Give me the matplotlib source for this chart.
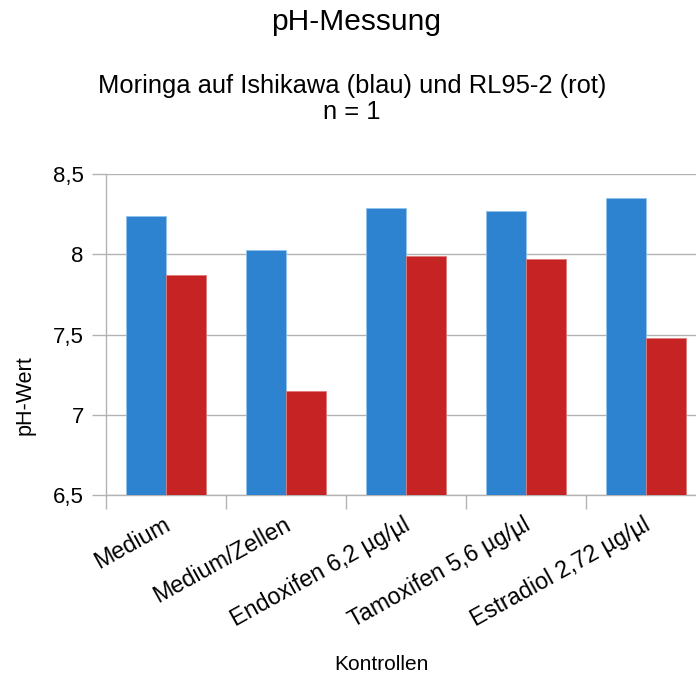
import matplotlib
matplotlib.use("Agg")
import matplotlib.pyplot as plt
import matplotlib.transforms as mtransforms
import numpy as np

# Daten
kategorien = ["Medium", "Medium/Zellen", "Endoxifen 6,2 µg/µl",
              "Tamoxifen 5,6 µg/µl", "Estradiol 2,72 µg/µl"]
ishikawa = [8.24, 8.03, 8.29, 8.27, 8.35]   # blau
rl95 = [7.87, 7.15, 7.99, 7.97, 7.48]       # rot
y_ticks = [6.5, 7, 7.5, 8, 8.5]
y_labels = ["6,5", "7", "7,5", "8", "8,5"]

plt.rcParams['font.family'] = ['Liberation Sans', 'DejaVu Sans']

blau = "#2e83d1"
rot = "#c62424"
grau = "#b3b3b3"

fig = plt.figure(figsize=(6.96, 6.77), dpi=100)
ax = fig.add_axes([106 / 696, 182 / 677, 600 / 696, 320.7 / 677])

x = np.arange(len(kategorien)) + 0.5
w = 1 / 3
ax.bar(x - w / 2, [v - 6.5 for v in ishikawa], w, bottom=6.5, color=blau,
       edgecolor="#8fc3ee", linewidth=0.6, zorder=3)
ax.bar(x + w / 2, [v - 6.5 for v in rl95], w, bottom=6.5, color=rot,
       edgecolor="#e07a7a", linewidth=0.6, zorder=3)

ax.set_xlim(0, len(kategorien))
ax.set_ylim(6.5, 8.5)

# Gitterlinien
ax.set_yticks(y_ticks)
ax.set_yticklabels(y_labels, fontsize=16)
ax.yaxis.grid(True, color=grau, linewidth=1, zorder=0)
ax.tick_params(axis="y", length=10, width=1, color=grau, pad=6)

# Striche zwischen den Kategorien, Beschriftung in der Mitte
ax.set_xticks(np.arange(len(kategorien) + 1))
ax.set_xticklabels([])
ax.tick_params(axis="x", which="major", length=10, width=1, color=grau)
ax.set_xticks(x, minor=True)
ax.set_xticklabels(kategorien, minor=True, fontsize=16.8, rotation=29,
                   ha="right", va="top", rotation_mode="anchor")
ax.tick_params(axis="x", which="minor", length=0, pad=13)
shift = mtransforms.ScaledTranslation(-3 / 100, 0, fig.dpi_scale_trans)
for lbl in ax.get_xticklabels(minor=True):
    lbl.set_transform(lbl.get_transform() + shift)

for s in ["top", "right"]:
    ax.spines[s].set_visible(False)
for s in ["left", "bottom"]:
    ax.spines[s].set_color(grau)
    ax.spines[s].set_linewidth(1)
ax.spines["left"].set_zorder(4)

fig.text(356 / 696, 1 - 22 / 677, "pH-Messung", ha="center", va="center", fontsize=21.5)
fig.text(352 / 696, 1 - 86 / 677, "Moringa auf Ishikawa (blau) und RL95-2 (rot)",
         ha="center", va="center", fontsize=18.4)
fig.text(352 / 696, 1 - 112 / 677, "n = 1", ha="center", va="center", fontsize=18.4)
fig.text(25 / 696, 1 - 395 / 677, "pH-Wert", ha="center", va="center",
         rotation=90, fontsize=15.5)
fig.text(381 / 696, 1 - 665 / 677, "Kontrollen", ha="center", va="center", fontsize=15)

fig.savefig("out.png", dpi=100)
